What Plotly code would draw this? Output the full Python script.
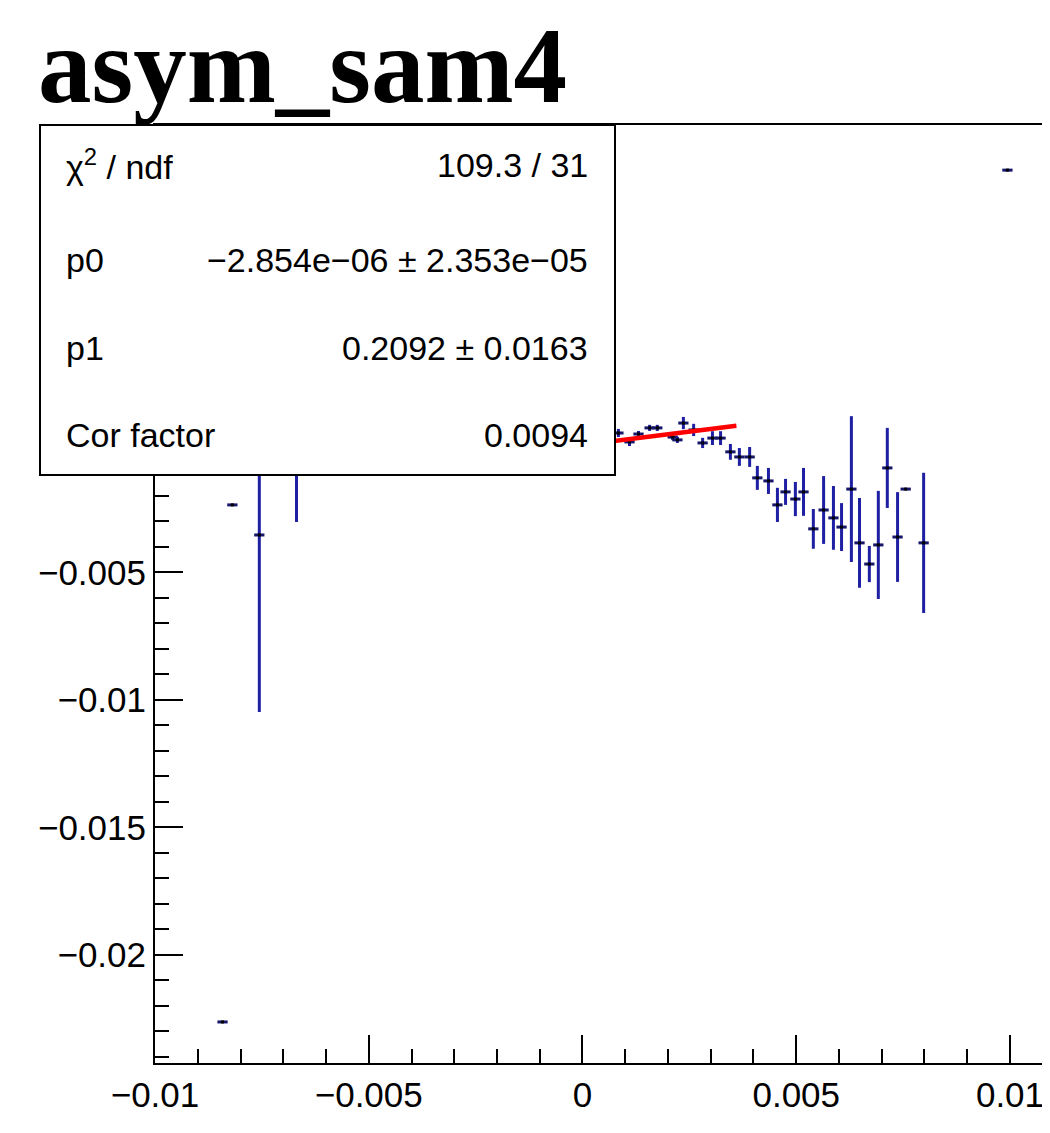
import numpy as np
import plotly.graph_objects as go

# ---- data ----
x_vals = [-0.00842, -0.00819, -0.00756, -0.00669,
          0.00084, 0.00110, 0.00131, 0.00157, 0.00175, 0.00211, 0.00222, 0.00236,
          0.00260, 0.00281, 0.00304, 0.00323, 0.00346, 0.00367, 0.00391, 0.00409,
          0.00435, 0.00456, 0.00475, 0.00498, 0.00517, 0.00540, 0.00564, 0.00587,
          0.00606, 0.00629, 0.00648, 0.00671, 0.00692, 0.00713, 0.00737, 0.00756,
          0.00798, 0.00994]
y_vals = [-0.02263, -0.00235, -0.00353, -0.00059,
          0.00047, 0.00012, 0.00043, 0.00067, 0.00067, 0.00031, 0.00020, 0.00086,
          0.00059, 0.00008, 0.00027, 0.00027, -0.00027, -0.00047, -0.00047, -0.00129,
          -0.00141, -0.00235, -0.00184, -0.00212, -0.00184, -0.00329, -0.00255, -0.00286,
          -0.00322, -0.00173, -0.00384, -0.00467, -0.00392, -0.00090, -0.00361, -0.00173,
          -0.00384, 0.01078]
y_errs = [0.0, 0.0, 0.00694, 0.00243,
          0.00016, 0.00016, 0.00012, 0.00012, 0.00012, 0.00012, 0.00012, 0.00024,
          0.00024, 0.00020, 0.00027, 0.00027, 0.00031, 0.00035, 0.00039, 0.00047,
          0.00051, 0.00067, 0.00051, 0.00067, 0.00094, 0.00078, 0.00133, 0.00125,
          0.00094, 0.00286, 0.00176, 0.00071, 0.00212, 0.00157, 0.00176, 0.0,
          0.00275, 0.0]
x_errs = [0.00012] * len(x_vals)

# fit results (pol1)
p0 = -2.854e-06
p1 = 0.2092
fit_range = [-0.0030, 0.0036]

title_text = "asym_sam4"
stat_labels = ["χ<sup>2</sup> / ndf", "p0", "p1", "Cor factor"]
stat_values = ["109.3 / 31", "−2.854e−06 ± 2.353e−05", "0.2092 ± 0.0163", "0.0094"]

x_ticks = [-0.01, -0.005, 0, 0.005, 0.01]
y_ticks = [-0.02, -0.015, -0.01, -0.005]

x_range = [-0.01, 0.010936]
y_range = [-0.02424, 0.01255]

# ---- figure (page body adds an 8 px offset) ----
OFF = 8
W, H = 1050 - OFF, 1133 - OFF
L, R, T, B = 155 - OFF, 0, 125 - OFF, 70
pw, ph = W - L - R, H - T - B


def px_x(px):
    return (px - OFF - L) / pw


def px_y(py):
    return (H - B - (py - OFF)) / ph


fig = go.Figure()

fig.add_trace(go.Scatter(
    x=x_vals, y=y_vals, mode="markers",
    marker=dict(color="black", size=3, symbol="square"),
    error_y=dict(type="data", array=y_errs, color="#1f1fa3", thickness=3, width=0),
    error_x=dict(type="data", array=x_errs, color="#16166a", thickness=3, width=0),
    showlegend=False, hoverinfo="x+y",
))

fx = np.array(fit_range)
fig.add_trace(go.Scatter(
    x=fx, y=p0 + p1 * fx, mode="lines",
    line=dict(color="#ff0000", width=4.5),
    showlegend=False,
))

axis_common = dict(
    showline=True, linecolor="black", linewidth=2,
    ticks="inside", ticklen=28, tickwidth=2, tickcolor="black",
    showgrid=False, zeroline=False,
    tickfont=dict(family="Liberation Sans, Arial, sans-serif", size=35, color="black"),
    minor=dict(ticks="inside", ticklen=14, tickwidth=2, tickcolor="black",
               tickmode="linear", tick0=0, dtick=0.001),
)

fig.update_xaxes(range=x_range, tickmode="array", tickvals=x_ticks, mirror=True,
                 **axis_common)
fig.update_yaxes(range=y_range, tickmode="array", tickvals=y_ticks, mirror=False,
                 **axis_common)

# stats box
fig.add_shape(type="rect", xref="paper", yref="paper",
              x0=px_x(40), x1=px_x(615), y0=px_y(475), y1=px_y(125),
              line=dict(color="black", width=2), fillcolor="white", layer="above")

row_y = [165, 260, 348, 435]
stat_font = dict(family="Liberation Sans, Arial, sans-serif", size=34, color="black")
for lab, val, ry in zip(stat_labels, stat_values, row_y):
    fig.add_annotation(xref="paper", yref="paper", x=px_x(64), y=px_y(ry),
                       xanchor="left", yanchor="middle", text=lab, showarrow=False,
                       font=stat_font)
    fig.add_annotation(xref="paper", yref="paper", x=px_x(590), y=px_y(ry),
                       xanchor="right", yanchor="middle", text=val, showarrow=False,
                       font=stat_font)

fig.add_annotation(xref="paper", yref="paper", x=px_x(36), y=px_y(66),
                   xanchor="left", yanchor="middle", text="<b>" + title_text + "</b>",
                   showarrow=False,
                   font=dict(family="Liberation Serif, Times New Roman, serif", size=107,
                             color="black"))

fig.update_layout(
    width=W, height=H,
    margin=dict(l=L, r=R, t=T, b=B, pad=0),
    paper_bgcolor="white", plot_bgcolor="white",
)

fig.write_html("out.html")
